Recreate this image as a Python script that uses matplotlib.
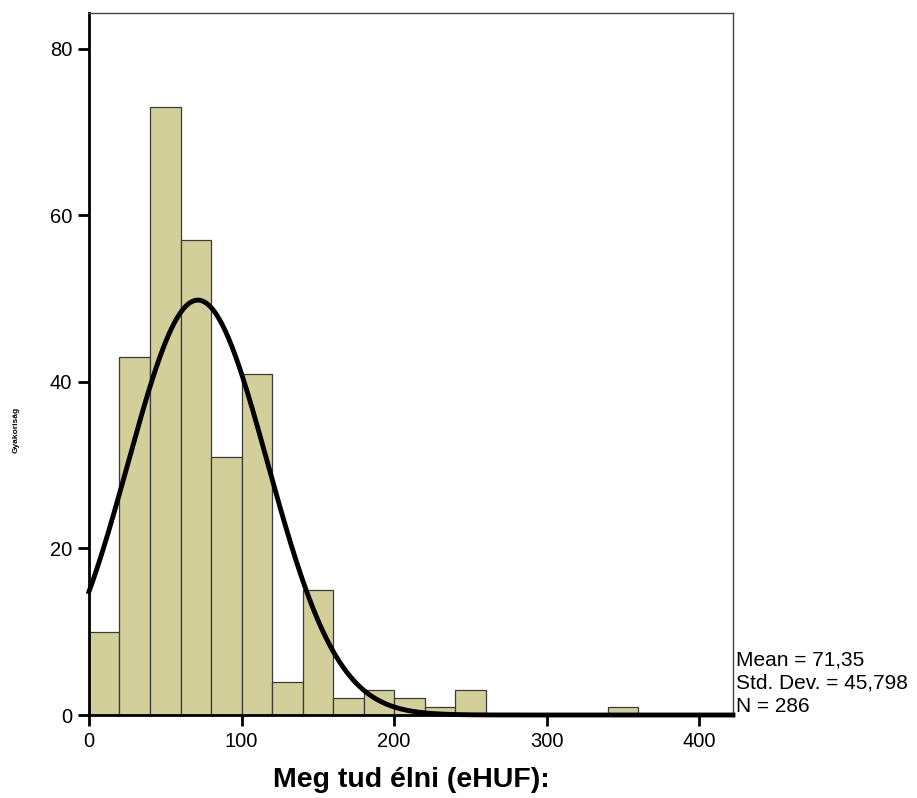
import numpy as np
import matplotlib.pyplot as plt

plt.rcParams["font.family"] = ["Liberation Sans", "DejaVu Sans"]

# histogram data (bin width 20, starting at 0)
bin_edges = np.arange(0, 381, 20)
counts = [10, 43, 73, 57, 31, 41, 4, 15, 2, 3, 2, 1, 3, 0, 0, 0, 0, 1, 0]

mean_val = 71.35
std_val = 45.798
n_obs = 286
bin_width = 20

fig = plt.figure(figsize=(9.17, 7.98), dpi=100)
ax = fig.add_axes([0.097, 0.104, 0.7023, 0.8797])

ax.bar(bin_edges[:-1], counts, width=bin_width, align="edge",
       color="#D3CF9B", edgecolor="#3a3a3a", linewidth=0.9, zorder=2)

# fitted normal curve
xs = np.linspace(0, 422, 600)
ys = n_obs * bin_width / (std_val * np.sqrt(2 * np.pi)) * np.exp(-0.5 * ((xs - mean_val) / std_val) ** 2)
ax.plot(xs, ys, color="black", linewidth=3.5, zorder=3, clip_on=False)

ax.set_xlim(0, 422)
ax.set_ylim(0, 84.3)
ax.set_xticks([0, 100, 200, 300, 400])
ax.set_yticks([0, 20, 40, 60, 80])
ax.tick_params(direction="out", length=8, width=2, labelsize=14.5, pad=4)

for side in ["left", "bottom"]:
    ax.spines[side].set_linewidth(2)
    ax.spines[side].set_color("black")
for side in ["top", "right"]:
    ax.spines[side].set_linewidth(1)
    ax.spines[side].set_color("#444444")

ax.set_xlabel("Meg tud élni (eHUF):", fontsize=20.5, fontweight="bold", labelpad=12)

# squashed y label as in the original export
fig.text(0.018, 1 - 430 / 798, "Gyakoriság", fontsize=6, fontweight="heavy",
         rotation=90, ha="center", va="center")

fig.text(0.803, 1 - 660 / 798, "Mean = 71,35", fontsize=15, va="center")
fig.text(0.803, 1 - 683 / 798, "Std. Dev. = 45,798", fontsize=15, va="center")
fig.text(0.803, 1 - 706 / 798, "N = 286", fontsize=15, va="center")

fig.savefig("out.png", dpi=100)
